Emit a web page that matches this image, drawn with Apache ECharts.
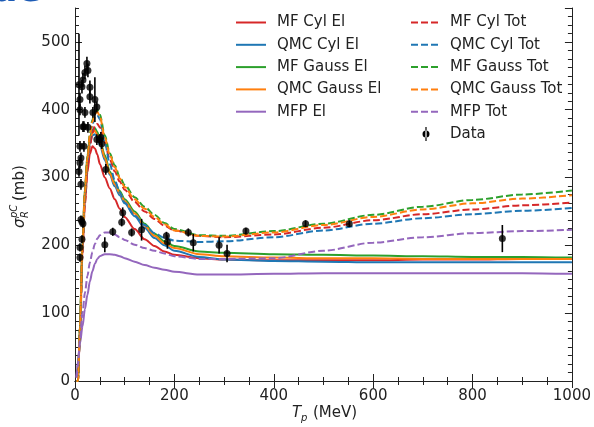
<!DOCTYPE html>
<html>
<head>
<meta charset="utf-8">
<script src="https://cdn.jsdelivr.net/npm/echarts/dist/echarts.min.js"></script>
<style>
  html, body { margin: 0; padding: 0; background: #fff; }
  #chart { width: 594px; height: 427px; }
</style>
</head>
<body>
<div id="chart"></div>
<script>
// proton energy grid (MeV) shared by all model curves
var T = [3, 6, 10, 15, 20, 25, 30, 35, 40, 45, 50, 60, 70, 80, 90, 100, 120, 140, 160, 180, 200, 250, 300, 400, 500, 600, 700, 800, 900, 1000];

// elastic (El) curves, mb
var mfCylEl    = [0, 0, 75, 190, 262, 308, 335, 346, 343, 334, 320, 300, 284, 268, 254, 242, 224, 209, 199, 191, 186, 181, 179, 178, 178, 178, 179, 179, 180, 180];
var qmcCylEl   = [0, 0, 80, 200, 278, 323, 350, 362, 364, 358, 348, 326, 304, 287, 274, 262, 243, 226, 211, 200, 192, 183, 179, 177, 176, 175, 175, 175, 175, 175];
var mfGaussEl  = [0, 0, 82, 205, 285, 332, 358, 370, 373, 367, 356, 333, 309, 293, 280, 268, 250, 232, 217, 206, 199, 191, 189, 187, 186, 185, 184, 183, 183, 182];
var qmcGaussEl = [0, 0, 81, 203, 282, 328, 354, 366, 369, 363, 352, 329, 306, 290, 277, 265, 247, 229, 214, 203, 196, 187, 184, 182, 181, 181, 180, 180, 180, 180];
var mfpEl      = [5, 30, 55, 80, 106, 127, 147, 162, 173, 180, 184, 187, 187, 186, 184, 181, 176, 171, 167, 164, 161, 157, 157, 158, 159, 159, 159, 159, 159, 158];

// total (Tot) curves, mb
var mfCylTot    = [0, 0, 72, 185, 262, 312, 346, 366, 376, 379, 374, 352, 327, 309, 294, 282, 264, 250, 239, 229, 222, 214, 212, 216, 226, 237, 246, 253, 259, 263];
var qmcCylTot   = [0, 0, 78, 195, 275, 325, 358, 378, 389, 392, 386, 352, 320, 296, 278, 263, 244, 230, 218, 211, 207, 205, 206, 212, 222, 232, 240, 246, 251, 255];
var mfGaussTot  = [0, 0, 80, 200, 280, 330, 365, 385, 397, 400, 393, 362, 336, 318, 301, 289, 271, 257, 245, 233, 224, 215, 214, 221, 232, 245, 257, 267, 275, 281];
var qmcGaussTot = [0, 0, 79, 198, 278, 328, 362, 382, 394, 397, 390, 359, 334, 315, 299, 286, 268, 254, 242, 231, 222, 214, 213, 219, 230, 242, 253, 262, 269, 274];
var mfpTot      = [5, 25, 60, 100, 130, 155, 175, 190, 202, 210, 215, 219, 219, 216, 212, 208, 201, 196, 192, 188, 184, 180, 180, 181, 192, 204, 212, 218, 221, 223];

// measured data: energy, cross section, error
var dataT   = [8, 24, 20, 26, 16, 14, 30, 10, 30, 40, 20, 36, 16, 26, 18, 44, 44, 50, 52, 54, 18, 12, 8, 12, 10, 10, 10, 62, 14, 12, 16, 14, 10, 10,
               60, 76, 96, 94, 114, 134, 184, 186, 228, 238, 290, 306, 344, 464, 552, 860];
var dataSig = [437, 468, 455, 458, 444, 434, 433, 415, 419, 415, 396, 396, 375, 374, 375, 404, 356, 356, 359, 350, 346, 329, 309, 290, 400, 346, 322, 312, 235, 238, 232, 209, 197, 182,
               201, 220, 248, 234, 219, 223, 214, 205, 219, 204, 200, 188, 221, 232, 232, 210];
var dataErr = [75, 10, 10, 10, 10, 10, 10, 10, 10, 33, 8, 8, 8, 8, 8, 8, 8, 8, 8, 8, 8, 8, 8, 8, 8, 8, 8, 8, 6, 6, 6, 6, 6, 6,
               11, 6, 8, 6, 6, 16, 6, 10, 6, 13, 12, 13, 5, 5, 5, 20];

var leftNames  = ['MF Cyl El', 'QMC Cyl El', 'MF Gauss El', 'QMC Gauss El', 'MFP El'];
var rightNames = ['MF Cyl Tot', 'QMC Cyl Tot', 'MF Gauss Tot', 'QMC Gauss Tot', 'MFP Tot', 'Data'];

var FONT = 'DejaVu Sans';
var INK = '#222';

// dot with a vertical error bar, used as the legend key for the data
var DATA_ICON = 'path://M1.5,7 a3.5,3.5 0 1,0 7,0 a3.5,3.5 0 1,0 -7,0 Z M4.4,0 h1.2 v14 h-1.2 Z';

function pairs(ys) {
    return T.map(function (t, i) { return [t, ys[i]]; });
}

function curve(name, ys, color, dashed) {
    return {
        name: name,
        type: 'line',
        data: pairs(ys),
        smooth: 0.3,
        smoothMonotone: 'x',
        showSymbol: false,
        symbol: 'none',
        lineStyle: { color: color, width: 2, type: dashed ? [7, 3] : 'solid' },
        itemStyle: { color: color },
        z: 2
    };
}

function legendItems(names) {
    return names.map(function (n) {
        if (n === 'Data') {
            return { name: n, icon: DATA_ICON, itemStyle: { opacity: 1, color: '#000' } };
        }
        return { name: n };
    });
}

var pts = dataT.map(function (t, i) { return [t, dataSig[i], dataErr[i]]; });

var chart = echarts.init(document.getElementById('chart'), null, { renderer: 'canvas' });

var tickLine = { color: INK, width: 1 };

function legendBox(names, left, pad) {
    return {
        data: legendItems(names),
        orient: 'vertical',
        left: left, top: 15,
        padding: 0,
        itemWidth: 30, itemHeight: 14, itemGap: 7.3,
        itemStyle: { opacity: 0 },
        textStyle: { fontSize: 15, color: INK, fontFamily: FONT, padding: [0, 0, 0, pad] }
    };
}

chart.setOption({
    animation: false,
    textStyle: { fontFamily: FONT },
    grid: { left: 75, right: 19, top: 8, bottom: 46 },
    legend: [
        legendBox(leftNames, 235, 6),
        legendBox(rightNames, 410, 4)
    ],
    xAxis: [
        {
            type: 'value', min: 0, max: 1000, interval: 200,
            axisLine: { lineStyle: tickLine },
            axisTick: { inside: true, length: 7, lineStyle: tickLine },
            minorTick: { show: true, splitNumber: 4, length: 4, lineStyle: tickLine },
            axisLabel: { fontSize: 15, color: INK, margin: 8, fontFamily: FONT, formatter: function (v) { return String(v); } },
            splitLine: { show: false }
        },
        {
            type: 'value', min: 0, max: 1000, interval: 200, position: 'top',
            axisLine: { lineStyle: tickLine },
            axisTick: { inside: true, length: 7, lineStyle: tickLine },
            minorTick: { show: true, splitNumber: 4, length: 4, lineStyle: tickLine },
            axisLabel: { show: false },
            splitLine: { show: false }
        }
    ],
    yAxis: [
        {
            type: 'value', min: 0, max: 550, interval: 100, position: 'left',
            axisLine: { show: true, lineStyle: tickLine },
            axisTick: { show: true, inside: true, length: 7, lineStyle: tickLine },
            axisLabel: { fontSize: 15, color: INK, margin: 5, showMaxLabel: false, fontFamily: FONT },
            splitLine: { show: false }
        },
        {
            type: 'value', min: 0, max: 550, interval: 12.5, position: 'left',
            axisLine: { show: false },
            axisTick: { show: true, inside: true, length: 4, lineStyle: tickLine },
            axisLabel: { show: false },
            splitLine: { show: false }
        },
        {
            type: 'value', min: 0, max: 550, interval: 100, position: 'right',
            axisLine: { show: true, lineStyle: tickLine },
            axisTick: { show: true, inside: true, length: 7, lineStyle: tickLine },
            axisLabel: { show: false },
            splitLine: { show: false }
        },
        {
            type: 'value', min: 0, max: 550, interval: 12.5, position: 'right',
            axisLine: { show: false },
            axisTick: { show: true, inside: true, length: 4, lineStyle: tickLine },
            axisLabel: { show: false },
            splitLine: { show: false }
        }
    ],
    series: [
        curve('MF Cyl El', mfCylEl, '#d62728', false),
        curve('QMC Cyl El', qmcCylEl, '#1f77b4', false),
        curve('MF Gauss El', mfGaussEl, '#2ca02c', false),
        curve('QMC Gauss El', qmcGaussEl, '#ff7f0e', false),
        curve('MFP El', mfpEl, '#9467bd', false),
        curve('MF Cyl Tot', mfCylTot, '#d62728', true),
        curve('QMC Cyl Tot', qmcCylTot, '#1f77b4', true),
        curve('MF Gauss Tot', mfGaussTot, '#2ca02c', true),
        curve('QMC Gauss Tot', qmcGaussTot, '#ff7f0e', true),
        curve('MFP Tot', mfpTot, '#9467bd', true),
        {
            name: 'Data',
            type: 'scatter',
            data: pts,
            symbol: 'circle',
            symbolSize: 7,
            itemStyle: { color: '#000' },
            z: 5
        },
        {
            name: 'Data',
            type: 'custom',
            data: pts,
            z: 4,
            renderItem: function (params, api) {
                var x = api.value(0), y = api.value(1), e = api.value(2);
                var lo = api.coord([x, y - e]);
                var hi = api.coord([x, y + e]);
                return {
                    type: 'line',
                    shape: { x1: lo[0], y1: lo[1], x2: hi[0], y2: hi[1] },
                    style: { stroke: '#000', lineWidth: 1.6 }
                };
            }
        }
    ],
    graphic: [
        // clipped slide title fragment at the top-left corner
        {
            type: 'text', left: -8, top: -26,
            style: { text: 'ue', font: 'bold 36px DejaVu Sans', fill: '#1d5bb5' }
        },
        // y axis title
        {
            type: 'group', x: 20, y: 196, rotation: Math.PI / 2,
            children: [
                { type: 'text', x: -32, y: 0, style: { text: 'σ', font: 'italic 15px DejaVu Sans', fill: INK, verticalAlign: 'middle' } },
                { type: 'text', x: -22, y: -6, style: { text: 'pC', font: 'italic 10px DejaVu Sans', fill: INK, verticalAlign: 'middle' } },
                { type: 'text', x: -22, y: 5, style: { text: 'R', font: 'italic 10px DejaVu Sans', fill: INK, verticalAlign: 'middle' } },
                { type: 'text', x: -5, y: 0, style: { text: '(mb)', font: '15px DejaVu Sans', fill: INK, verticalAlign: 'middle' } }
            ]
        },
        // x axis title
        {
            type: 'group', x: 325, y: 413,
            children: [
                { type: 'text', x: -33, y: 0, style: { text: 'T', font: 'italic 15px DejaVu Sans', fill: INK, verticalAlign: 'middle' } },
                { type: 'text', x: -24, y: 5, style: { text: 'p', font: 'italic 10px DejaVu Sans', fill: INK, verticalAlign: 'middle' } },
                { type: 'text', x: -12, y: 0, style: { text: '(MeV)', font: '15px DejaVu Sans', fill: INK, verticalAlign: 'middle' } }
            ]
        }
    ]
});
</script>
</body>
</html>
